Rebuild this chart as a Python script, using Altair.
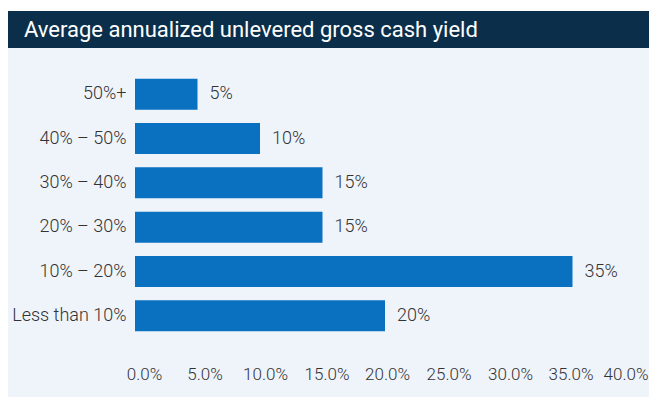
import altair as alt
import pandas as pd

title_text = "Average annualized unlevered gross cash yield"
categories = ["50%+", "40% – 50%", "30% – 40%", "20% – 30%", "10% – 20%", "Less than 10%"]
values = [0.05, 0.10, 0.15, 0.15, 0.35, 0.20]
tick_values = [0.0, 0.05, 0.10, 0.15, 0.20, 0.25, 0.30, 0.35, 0.40]

NAVY = "#0b2f4b"
BAR = "#0a70c0"
BG = "#eff4fb"
TXT = "#333333"
FONT = "Roboto"
FS = 18

df = pd.DataFrame({"cat": categories, "val": values})
one = pd.DataFrame({"t": [title_text]})

label_offset = {
    "condition": [
        {"test": "datum.value < 0.01", "value": 9},
        {"test": "datum.value < 0.06", "value": 7},
        {"test": "datum.value < 0.11", "value": 5},
        {"test": "datum.value < 0.16", "value": 4},
        {"test": "datum.value < 0.21", "value": 2},
        {"test": "datum.value < 0.26", "value": 1},
        {"test": "datum.value < 0.31", "value": 0},
        {"test": "datum.value < 0.36", "value": -2},
    ],
    "value": 13,
}
label_align = {"condition": {"test": "datum.value > 0.37", "value": "right"}, "value": "center"}

y_enc = alt.Y("cat:N", sort=categories,
              scale=alt.Scale(paddingInner=0.3, paddingOuter=0.15),
              axis=alt.Axis(title=None, ticks=False, domain=False, labelPadding=9,
                            labelFontSize=FS, labelColor=TXT, labelFont=FONT,
                            labelFontWeight=300))
x_enc = alt.X("val:Q", scale=alt.Scale(domain=[0, 0.4], nice=False),
              axis=alt.Axis(title=None, values=tick_values, format=".1%", grid=False,
                            ticks=False, domain=False, labelPadding=28,
                            labelOffset=label_offset, labelAlign=label_align,
                            labelFontSize=17, labelColor=TXT, labelFont=FONT,
                            labelFontWeight=300,
                            labelFlush=False, labelOverlap=False))

white_strip = alt.Chart(one).mark_rect(color="white").encode(
    x=alt.value(-127), x2=alt.value(514), y=alt.value(-64), y2=alt.value(-61))
navy_bar = alt.Chart(one).mark_rect(color=NAVY).encode(
    x=alt.value(-127), x2=alt.value(514), y=alt.value(-61), y2=alt.value(-24))
title = alt.Chart(one).mark_text(align="left", baseline="middle", font=FONT,
                                 fontSize=22, color="white").encode(
    x=alt.value(-111), y=alt.value(-42.5), text="t:N")

bars = alt.Chart(df).mark_bar(color=BAR).encode(x=x_enc, y=y_enc)
labels = alt.Chart(df).mark_text(align="left", baseline="middle", dx=12, font=FONT,
                                 fontSize=FS, fontWeight=300, color=TXT).encode(
    x="val:Q", y=alt.Y("cat:N", sort=categories), text=alt.Text("val:Q", format=".0%"))

chart = alt.layer(white_strip, navy_bar, title, bars, labels).properties(
    width=500, height=266,
    autosize=alt.AutoSizeParams(type="none"),
    padding={"left": 127, "top": 64, "right": 14, "bottom": 59},
    background=BG,
).configure_view(strokeWidth=0)

chart.save("out.html", embed_options={"renderer": "svg", "actions": False})
